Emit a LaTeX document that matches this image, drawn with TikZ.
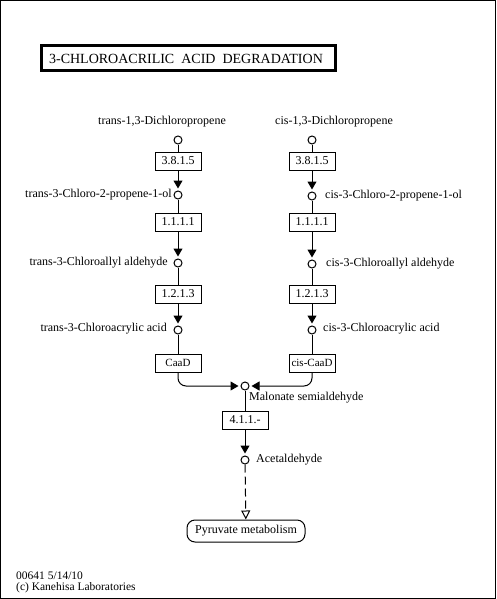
\documentclass[tikz,border=0pt]{standalone}
\usepackage{fontspec}
\setmainfont{Liberation Serif}
\usetikzlibrary{arrows.meta}
\begin{document}
\begin{tikzpicture}[x=1pt,y=-1pt,
  cpd/.style={circle,draw,fill=white,minimum size=8pt,inner sep=0pt,line width=1pt},
  enz/.style={rectangle,draw,fill=white,minimum width=46pt,minimum height=18pt,inner sep=0pt,line width=1pt,font=\fontsize{12}{14}\selectfont},
  lbl/.style={inner sep=0pt,font=\fontsize{12}{14}\selectfont},
  foot/.style={inner sep=0pt,anchor=west,font=\fontsize{11.5}{13}\selectfont},
  rx/.style={line width=1pt,-{Triangle[width=9pt,length=8pt]},shorten >=2pt},
  ln/.style={line width=1pt},
  mapbox/.style={rectangle,rounded corners=8pt,draw,minimum width=118pt,minimum height=22pt,inner sep=0pt,line width=1pt,font=\fontsize{12}{14}\selectfont},
  titlebox/.style={rectangle,draw,line width=3pt,minimum width=294pt,minimum height=25pt,inner sep=0pt}
]
\useasboundingbox (0,0) rectangle (496,599);
\draw[line width=1pt] (0.5,0.5) rectangle (495.5,598.5);

% title
\node[titlebox] (tbox) at (188.5,58) {};
\node[lbl,font=\fontsize{14}{16}\selectfont] (title) at (186,58.5) {3-CHLOROACRILIC\hspace{7pt}ACID\hspace{7pt}DEGRADATION};

% left column
\node[cpd] (c1) at (178,140) {};
\node[lbl,anchor=west] (l1) at (98,122) {trans-1,3-Dichloropropene};
\node[enz] (e1) at (178,161) {3.8.1.5};
\node[cpd] (c2) at (178,195) {};
\node[lbl,anchor=east] (l2) at (172,195) {trans-3-Chloro-2-propene-1-ol};
\node[enz] (e2) at (178,222) {1.1.1.1};
\node[cpd] (c3) at (178,263) {};
\node[lbl,anchor=east] (l3) at (168,263) {trans-3-Chloroallyl aldehyde};
\node[enz] (e3) at (178,294) {1.2.1.3};
\node[cpd] (c4) at (178,330) {};
\node[lbl,anchor=east] (l4) at (167,329) {trans-3-Chloroacrylic acid};
\node[enz,font=\fontsize{11}{13}\selectfont] (e4) at (178,363) {CaaD};

% right column
\node[cpd] (d1) at (312,140) {};
\node[lbl,anchor=west] (m1) at (275,122) {cis-1,3-Dichloropropene};
\node[enz] (f1) at (312,161) {3.8.1.5};
\node[cpd] (d2) at (312,196) {};
\node[lbl,anchor=west] (m2) at (325,196) {cis-3-Chloro-2-propene-1-ol};
\node[enz] (f2) at (312,222) {1.1.1.1};
\node[cpd] (d3) at (312,264) {};
\node[lbl,anchor=west] (m3) at (326,264) {cis-3-Chloroallyl aldehyde};
\node[enz] (f3) at (312,294) {1.2.1.3};
\node[cpd] (d4) at (312,330) {};
\node[lbl,anchor=west] (m4) at (323,329) {cis-3-Chloroacrylic acid};
\node[enz,font=\fontsize{11}{13}\selectfont] (f4) at (312,363) {cis-CaaD};

% bottom
\node[cpd] (mal) at (245,386) {};
\node[lbl,anchor=west] (mall) at (249,398) {Malonate semialdehyde};
\node[enz] (g1) at (245,420) {4.1.1.-};
\node[cpd] (acet) at (245,460) {};
\node[lbl,anchor=west] (acetl) at (256,460) {Acetaldehyde};
\node[mapbox] (pyr) at (246,531) {Pyruvate metabolism};

% connectors
\draw[ln] (c1) -- (e1);
\draw[rx] (e1) -- (c2);
\draw[ln] (c2) -- (e2);
\draw[rx] (e2) -- (c3);
\draw[ln] (c3) -- (e3);
\draw[rx] (e3) -- (c4);
\draw[ln] (c4) -- (e4);
\draw[rx,rounded corners=8pt] (e4) |- (mal);

\draw[ln] (d1) -- (f1);
\draw[rx] (f1) -- (d2);
\draw[ln] (d2) -- (f2);
\draw[rx] (f2) -- (d3);
\draw[ln] (d3) -- (f3);
\draw[rx] (f3) -- (d4);
\draw[ln] (d4) -- (f4);
\draw[rx,rounded corners=8pt] (f4) |- (mal);

\draw[ln] (mal) -- (g1);
\draw[rx] (g1) -- (acet);
\draw[line width=1pt,dash pattern=on 8pt off 4pt,-{Triangle[open,width=9pt,length=9pt]}] (acet) -- (pyr);

% footer
\node[foot] (f1t) at (16,576) {00641 5/14/10};
\node[foot] (f2t) at (16,588) {(c) Kanehisa Laboratories};
\end{tikzpicture}
\end{document}
